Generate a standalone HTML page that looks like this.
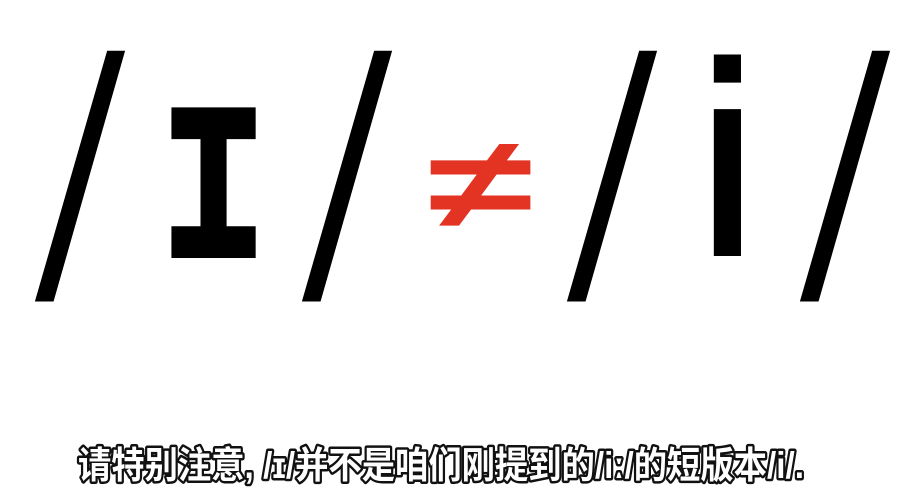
<!DOCTYPE html>
<html><head><meta charset="utf-8"><style>
html,body{margin:0;padding:0;background:#fff;width:898px;height:494px;overflow:hidden}
svg{display:block}
.sub{font-family:"Liberation Sans","Noto Sans CJK SC",sans-serif;font-size:37px;font-weight:bold;fill:#fff;stroke:#111;stroke-width:5px;paint-order:stroke;stroke-linejoin:round}
.big{font-family:"Liberation Sans","DejaVu Sans",sans-serif;fill:#000}
.sl{font-family:"Liberation Sans",sans-serif;fill:#000;stroke:#fff;stroke-width:10px;font-size:355px}
</style></head><body>
<svg width="898" height="494" viewBox="0 0 898 494">
<rect width="898" height="494" fill="#fff"/>
<g>
<text class="sl" x="28" y="303" textLength="104" lengthAdjust="spacingAndGlyphs">/</text>
<text class="big" x="157" y="258" font-size="285" style="font-family:'Liberation Mono','DejaVu Sans Mono',monospace;font-weight:bold" textLength="113" lengthAdjust="spacingAndGlyphs">ɪ</text>
<text class="sl" x="295" y="303" textLength="104" lengthAdjust="spacingAndGlyphs">/</text>
<text x="428" y="228" font-size="130" fill="#e33322" style="font-family:'Liberation Sans',sans-serif;font-weight:bold" textLength="105" lengthAdjust="spacingAndGlyphs">≠</text>
<text class="sl" x="560" y="303" textLength="104" lengthAdjust="spacingAndGlyphs">/</text>
<text class="big" x="700" y="256" font-size="278" style="font-family:'Liberation Sans',sans-serif;font-weight:bold" textLength="55" lengthAdjust="spacingAndGlyphs">i</text>
<text class="sl" x="793" y="303" textLength="104" lengthAdjust="spacingAndGlyphs">/</text>
</g>
<text class="sub" x="441" y="478" text-anchor="middle" textLength="726" lengthAdjust="spacingAndGlyphs">请特别注意, /ɪ/并不是咱们刚提到的/iː/的短版本/i/.</text>
</svg>
</body></html>
